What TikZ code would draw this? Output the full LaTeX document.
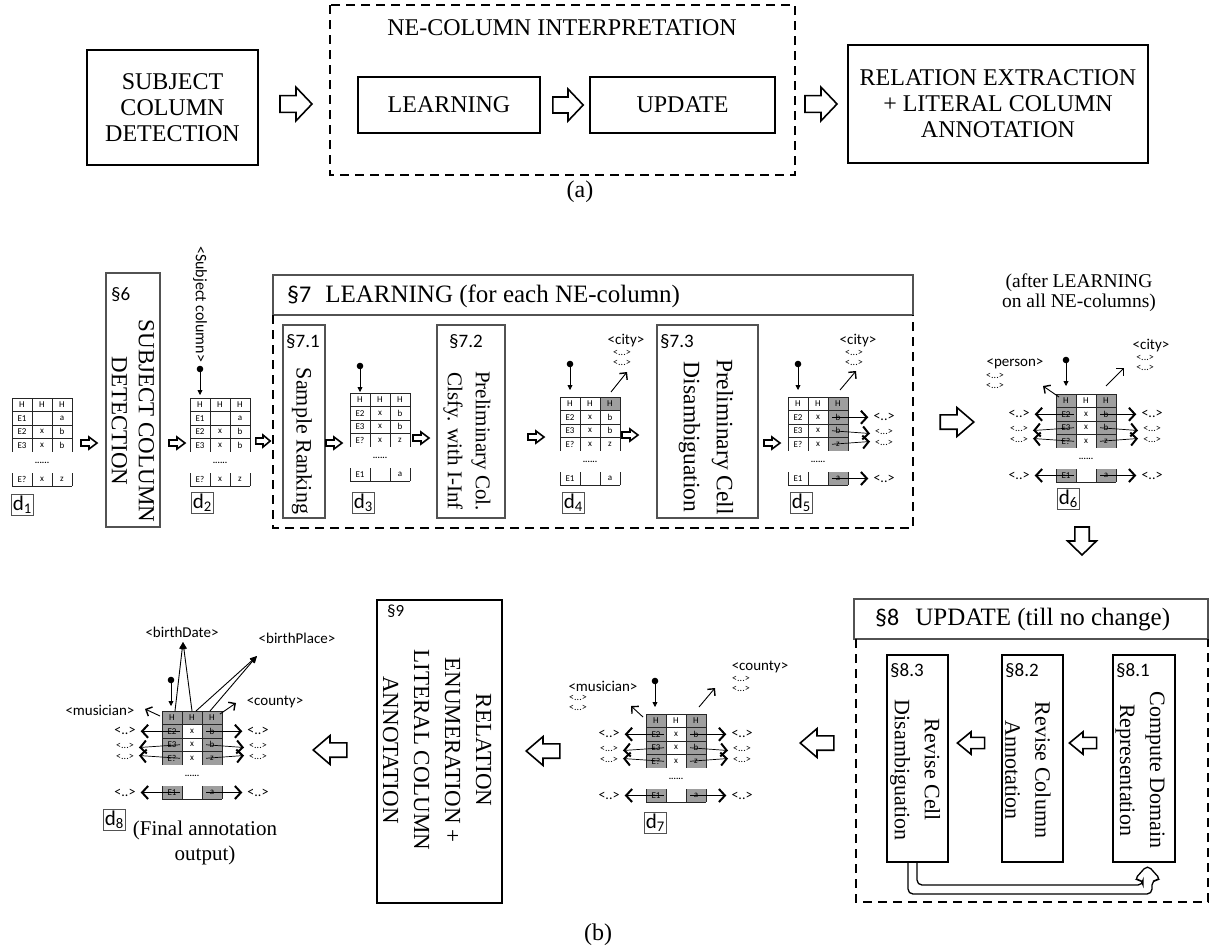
\documentclass[tikz,border=0pt]{standalone}
\usepackage{fontspec}
\setmainfont{Liberation Serif}
\newfontfamily\sanslab{Carlito}
\usetikzlibrary{arrows.meta}
\definecolor{cellgray}{gray}{0.62}
\definecolor{linegray}{gray}{0.32}
\tikzset{
  harr/.style={draw=black, line width=1.6pt, fill=white, line join=miter},
  boldbox/.style={draw=black, line width=1.9pt, inner sep=0pt},
  thinbox/.style={draw=linegray, line width=1.2pt, inner sep=0pt},
  dashbox/.style={draw=black, line width=1.9pt, dash pattern=on 9pt off 6pt},
  serifA/.style={font=\fontsize{24}{26}\selectfont, align=center},
  rotA/.style={rotate=-90, align=center, inner sep=0pt},
  seclab/.style={font=\sanslab\fontsize{19}{19}\selectfont, anchor=north west, inner sep=0pt},
  cellt/.style={font=\sanslab\fontsize{9}{9}\selectfont, inner sep=0pt},
  tabline/.style={draw=black!85, line width=0.7pt},
  dlab/.style={draw=linegray, line width=0.9pt, font=\sanslab\fontsize{21}{21}\selectfont, inner sep=1.5pt, anchor=north west},
  annot/.style={font=\sanslab\fontsize{15}{15}\selectfont, inner sep=0pt},
  cand/.style={font=\sanslab\fontsize{14}{14}\selectfont, inner sep=0pt},
  cloudt/.style={font=\sanslab\fontsize{10}{10.5}\selectfont, inner sep=0pt, align=center},
  rowarr/.style={line width=0.7pt, -{Straight Barb[length=6pt,width=13pt,line width=2pt]}},
  labarr/.style={line width=0.9pt, -{Straight Barb[length=5pt,width=10pt,line width=1.4pt]}},
  dotarr/.style={line width=0.8pt, -{Triangle[length=5pt,width=5pt]}},
  relarr/.style={line width=0.9pt, -{Triangle[length=7pt,width=6pt]}},
}
\def\rowsA{H/H/H/6.75, E1/{}/a/20.25, E2/x/b/33.75, E3/x/b/47.25, E?/x/z/81.5}
\def\rowsB{H/H/H/6.75, E2/x/b/20.25, E3/x/b/33.75, E?/x/z/47.25, E1/{}/a/81.5}
\newcommand\harrow[5]{\draw[harr, shift={(#1,#2)}, rotate=#3, xscale=#4, yscale=#5] (-8,-4) -- (0,-4) -- (0,-8) -- (8,0) -- (0,8) -- (0,4) -- (-8,4) -- cycle;}
\newcommand\gshade[3]{%
  \begin{scope}[shift={(#1,#2)}]
  \foreach \c/\r in {#3}{%
    \pgfmathsetmacro\ya{ifthenelse(\r<4,\r*13.5,75)}%
    \pgfmathsetmacro\yb{ifthenelse(\r<4,(\r+1)*13.5,88)}%
    \fill[cellgray] ({(\c-1)*20},\ya) rectangle ({\c*20},\yb);
  }
  \end{scope}}
\newcommand\gtab[4]{%
  \begin{scope}[shift={(#2,#3)}]
  \coordinate (#1) at (0,0);
  \draw[tabline] (0,0) -- (60,0) (0,13.5) -- (60,13.5) (0,27) -- (60,27) (0,40.5) -- (60,40.5);
  \draw[tabline] (0,0) -- (0,54) (20,0) -- (20,54) (40,0) -- (40,54) (60,0) -- (60,54);
  \draw[tabline] (0,88) -- (60,88) (0,75) -- (0,88) (20,75) -- (20,88) (40,75) -- (40,88) (60,75) -- (60,88);
  \node[cellt, font=\sanslab\bfseries\fontsize{9}{9}\selectfont] (#1dots) at (30,65) {......};
  \foreach \p/\q/\s/\yy [count=\i] in #4 {%
    \node[cellt] (#1a\i) at (10,\yy) {\p};
    \node[cellt] (#1b\i) at (30,\yy) {\q};
    \node[cellt] (#1c\i) at (50,\yy) {\s};
  }
  \end{scope}}
\newcommand\rann[3]{%
  \begin{scope}[shift={(#2,#3)}]
  \node[cand] (#1R1) at (96,20.25) {<..>};
  \node[cloudt] (#1R2) at (96,40.5) {<...>\\<...>};
  \node[cand] (#1R4) at (96,81.5) {<..>};
  \coordinate (#1r1) at (44,20.25);
  \coordinate (#1r2) at (44,33.75);
  \coordinate (#1r3) at (44,47.25);
  \coordinate (#1r4) at (44,81.5);
  \draw[rowarr] (#1r1) -- ([xshift=-5pt]#1R1.west);
  \draw[rowarr] (#1r2) -- ([xshift=-5pt,yshift=4pt]#1R2.west);
  \draw[rowarr] (#1r3) -- ([xshift=-5pt,yshift=-4pt]#1R2.west);
  \draw[rowarr] (#1r4) -- ([xshift=-5pt]#1R4.west);
  \end{scope}}
\newcommand\lann[3]{%
  \begin{scope}[shift={(#2,#3)}]
  \node[cand] (#1L1) at (-37,20.25) {<..>};
  \node[cloudt] (#1L2) at (-37,40.5) {<...>\\<...>};
  \node[cand] (#1L4) at (-37,81.5) {<..>};
  \coordinate (#1l1) at (18,20.25);
  \coordinate (#1l2) at (18,33.75);
  \coordinate (#1l3) at (18,47.25);
  \coordinate (#1l4) at (18,81.5);
  \draw[rowarr] (#1l1) -- ([xshift=5pt]#1L1.east);
  \draw[rowarr] (#1l2) -- ([xshift=5pt,yshift=4pt]#1L2.east);
  \draw[rowarr] (#1l3) -- ([xshift=5pt,yshift=-4pt]#1L2.east);
  \draw[rowarr] (#1l4) -- ([xshift=5pt]#1L4.east);
  \end{scope}}
\newcommand\subjdot[3]{%
  \coordinate (#1dot) at (#2,#3);
  \coordinate (#1tip) at (#2,{#3+26});
  \fill (#1dot) circle[radius=3.3pt];
  \draw[dotarr] (#1dot) -- (#1tip);}
\newcommand\cloud[3]{\node[cloudt] (#1) at (#2,#3) {<...>\\<...>};}
\begin{document}
\begin{tikzpicture}[x=1pt,y=-1pt]
\useasboundingbox (0,0) rectangle (1217,951);
\fill[white] (0,0) rectangle (1217,951);

% ---------------- (a) ----------------
\node[boldbox, minimum width=171, minimum height=115, serifA] (scd) at (172.5,107.5) {SUBJECT\\COLUMN\\DETECTION};
\draw[dashbox] (330,5) rectangle (795,175);
\node[serifA] (neci) at (562,28) {NE-COLUMN INTERPRETATION};
\node[boldbox, minimum width=182, minimum height=56, serifA] (learn) at (449,105) {LEARNING};
\node[boldbox, minimum width=185, minimum height=56, serifA] (upd) at (682.5,105) {UPDATE};
\node[boldbox, minimum width=300, minimum height=118, serifA] (relx) at (998,104) {RELATION EXTRACTION\\+ LITERAL COLUMN\\ANNOTATION};
\harrow{296}{104}{0}{2}{2.1}
\harrow{568}{105}{0}{1.9}{2}
\harrow{821}{104}{0}{2}{2.1}
\node[serifA] (laba) at (580,192) {(a)};

% ---------------- (b) top row ----------------
% d1
\gtab{d1t}{12}{398}{\rowsA}
\node[dlab] (d1) at (11,494) {d\textsubscript{1}};
\harrow{89}{443}{0}{1}{0.75}
% section 6
\node[thinbox, minimum width=54, minimum height=254] (s6) at (133,400) {};
\node[seclab] (s6l) at (111,287) {§6};
\node[rotA, font=\fontsize{23}{27}\selectfont] (s6t) at (133,421) {SUBJECT COLUMN\\DETECTION};
\harrow{177}{443}{0}{1}{0.75}
% d2
\gtab{d2t}{190}{398}{\rowsA}
\node[dlab] (d2) at (191,492) {d\textsubscript{2}};
\node[annot, font=\sanslab\fontsize{16}{16}\selectfont, rotate=-90, anchor=west] (subj) at (200,246) {<Subject column>};
\subjdot{d2}{200}{369}
\harrow{263}{441}{0}{0.9}{0.75}
% section 7 header and frame
\node[thinbox, minimum width=640, minimum height=40] (h7) at (593,295) {};
\node[anchor=west, font=\fontsize{25}{25}\selectfont, inner sep=0pt] (h7t) at (287,296) {{\sanslab\fontsize{24}{24}\selectfont §7}\hspace{14pt}LEARNING (for each NE-column)};
\draw[dashbox] (273,315) -- (273,528) -- (913,528) -- (913,315);
% 7.1
\node[thinbox, minimum width=42, minimum height=193] (s71) at (304,421.5) {};
\node[seclab] (s71l) at (286,334) {§7.1};
\node[rotA, font=\fontsize{22}{26}\selectfont] (s71t) at (302,441) {Sample Ranking};
\harrow{334}{443}{0}{1}{0.75}
% d3
\gtab{d3t}{350}{393}{\rowsB}
\node[dlab] (d3) at (352,492) {d\textsubscript{3}};
\subjdot{d3}{360}{366}
\harrow{421}{438}{0}{1}{0.75}
% 7.2
\node[thinbox, minimum width=68, minimum height=193] (s72) at (471,421.5) {};
\node[seclab] (s72l) at (449,334) {§7.2};
\node[rotA, font=\fontsize{21}{28}\selectfont] (s72t) at (467,441) {Preliminary Col.\\Clsfy. with I-Inf};
\harrow{536}{437}{0}{1}{0.75}
% d4
\gshade{560}{397}{3/0}
\gtab{d4t}{560}{397}{\rowsB}
\node[dlab] (d4) at (562,492) {d\textsubscript{4}};
\subjdot{d4}{570}{364}
\node[annot] (d4city) at (626,341) {<city>};
\cloud{d4c}{622}{358}
\coordinate (d4tl) at (611,392);
\coordinate (d4hd) at (627,372);
\draw[labarr] (d4tl) -- (d4hd);
\harrow{630}{435}{0}{1}{0.75}
% 7.3
\node[thinbox, minimum width=101, minimum height=193] (s73) at (707.5,421.5) {};
\node[seclab] (s73l) at (660,334) {§7.3};
\node[rotA, font=\fontsize{23.5}{33}\selectfont] (s73t) at (706,437) {Preliminary Cell\\Disambiguation};
\harrow{772}{443}{0}{1}{0.75}
% d5
\gshade{788}{397}{3/0,3/1,3/2,3/3,3/4}
\gtab{d5t}{788}{397}{\rowsB}
\node[dlab] (d5) at (790,492) {d\textsubscript{5}};
\subjdot{d5}{798}{364}
\node[annot] (d5city) at (858,341) {<city>};
\cloud{d5c}{854}{358}
\coordinate (d5tl) at (840,390);
\coordinate (d5hd) at (856,371);
\draw[labarr] (d5tl) -- (d5hd);
\rann{d5}{788}{397}
% big arrow to d6
\harrow{957}{422}{0}{2.1}{1.8}
% d6
\node[font=\fontsize{19.5}{20}\selectfont, align=center, inner sep=0pt] (afterl) at (1079,293) {(after LEARNING\\on all NE-columns)};
\gshade{1056}{394}{1/0,1/1,1/2,1/3,1/4,3/0,3/1,3/2,3/3,3/4}
\gtab{d6t}{1056}{394}{\rowsB}
\node[dlab] (d6) at (1057,488) {d\textsubscript{6}};
\subjdot{d6}{1066}{360}
\node[annot] (d6city) at (1151,346) {<city>};
\cloud{d6c}{1145}{363}
\coordinate (d6tl) at (1106,386);
\coordinate (d6hd) at (1124,368);
\draw[labarr] (d6tl) -- (d6hd);
\node[annot] (d6pers) at (1015,364) {<person>};
\cloud{d6p}{995}{381}
\coordinate (d6pt) at (1059,397);
\coordinate (d6ph) at (1043,386);
\draw[labarr] (d6pt) -- (d6ph);
\rann{d6}{1056}{394}
\lann{d6}{1056}{394}
\harrow{1082}{541}{-90}{1.75}{1.8}

% ---------------- (b) bottom row ----------------
% section 8
\node[thinbox, minimum width=354, minimum height=40] (h8) at (1031,619) {};
\node[anchor=west, font=\fontsize{25}{25}\selectfont, inner sep=0pt] (h8t) at (875,620) {{\sanslab\fontsize{24}{24}\selectfont §8}\hspace{16pt}UPDATE (till no change)};
\draw[dashbox] (856,639) -- (856,902) -- (1208,902) -- (1208,639);
\node[thinbox, draw=black, minimum width=61, minimum height=207] (s83) at (917.5,758.5) {};
\node[thinbox, draw=black, minimum width=61, minimum height=207] (s82) at (1032.5,758.5) {};
\node[thinbox, draw=black, minimum width=62, minimum height=207] (s81) at (1144,758.5) {};
\node[seclab] (s83l) at (890,663) {§8.3};
\node[seclab] (s82l) at (1005,663) {§8.2};
\node[seclab] (s81l) at (1116,663) {§8.1};
\node[rotA, font=\fontsize{22}{30}\selectfont] (s83t) at (915,770) {Revise Cell\\Disambiguation};
\node[rotA, font=\fontsize{22}{30}\selectfont] (s82t) at (1028,770) {Revise Column\\Annotation};
\node[rotA, font=\fontsize{22}{30}\selectfont] (s81t) at (1140,770) {Compute Domain\\Representation};
\harrow{1083}{743}{180}{1.7}{1.4}
\harrow{971}{743}{180}{1.7}{1.4}
\draw[line width=1.3pt, rounded corners=5pt, fill=white] (917,863) -- (917,885) -- (1143,885) -- (1143,880) -- (1134,880) -- (1147.5,865) -- (1161,880) -- (1152,880) -- (1152,894) -- (908,894) -- (908,863);
\harrow{817}{743}{180}{2.1}{1.8}
% d7
\gshade{646}{714}{1/0,1/1,1/2,1/3,1/4,3/0,3/1,3/2,3/3,3/4}
\gtab{d7t}{646}{714}{\rowsB}
\node[dlab] (d7) at (644,812) {d\textsubscript{7}};
\subjdot{d7}{655}{681}
\node[annot] (d7mus) at (603,686) {<musician>};
\cloud{d7m}{578}{703}
\coordinate (d7mt) at (643,717);
\coordinate (d7mh) at (631,706);
\draw[labarr] (d7mt) -- (d7mh);
\node[annot] (d7cty) at (760,667) {<county>};
\cloud{d7c}{741}{684}
\coordinate (d7ct) at (699,707);
\coordinate (d7ch) at (715,688);
\draw[labarr] (d7ct) -- (d7ch);
\rann{d7}{646}{714}
\lann{d7}{646}{714}
\harrow{543}{751}{180}{2.1}{1.8}
% section 9
\node[boldbox, minimum width=125, minimum height=303] (s9) at (439.5,751.5) {};
\node[seclab, font=\sanslab\fontsize{17}{17}\selectfont] (s9l) at (387,605) {§9};
\node[rotA, font=\fontsize{23}{31}\selectfont] (s9t) at (437,750) {RELATION\\ENUMERATION +\\LITERAL COLUMN\\ANNOTATION};
\harrow{330}{750}{180}{2.1}{1.8}
% d8
\gshade{162}{711}{1/0,2/0,3/0,1/1,1/2,1/3,1/4,3/1,3/2,3/3,3/4}
\gtab{d8t}{162}{711}{\rowsB}
\subjdot{d8}{171}{680}
\node[annot] (d8mus) at (100,710) {<musician>};
\coordinate (d8mt) at (160,716);
\coordinate (d8mh) at (145,709);
\draw[labarr] (d8mt) -- (d8mh);
\node[annot] (d8cty) at (275,702) {<county>};
\coordinate (d8ct) at (220,714);
\coordinate (d8ch) at (236,703);
\draw[labarr] (d8ct) -- (d8ch);
\node[annot] (d8bd) at (182,632) {<birthDate>};
\coordinate (d8ap1) at (183,642);
\coordinate (d8b1) at (175,711);
\coordinate (d8b2) at (192,711);
\draw[relarr] (d8b1) -- (d8ap1);
\draw[relarr] (d8b2) -- (d8ap1);
\node[annot] (d8bp) at (297,638) {<birthPlace>};
\coordinate (d8ap2) at (257,656);
\coordinate (d8b3) at (196,711);
\coordinate (d8b4) at (210,711);
\draw[relarr] (d8b3) -- (d8ap2);
\draw[relarr] (d8b4) -- (d8ap2);
\rann{d8}{162}{711}
\lann{d8}{162}{711}
\node[dlab] (d8) at (103,809) {d\textsubscript{8}};
\node[font=\fontsize{21}{25}\selectfont, align=center, inner sep=0pt] (d8cap) at (205,843) {(Final annotation\\output)};
\node[serifA] (labb) at (598,935) {(b)};
\end{tikzpicture}
\end{document}
